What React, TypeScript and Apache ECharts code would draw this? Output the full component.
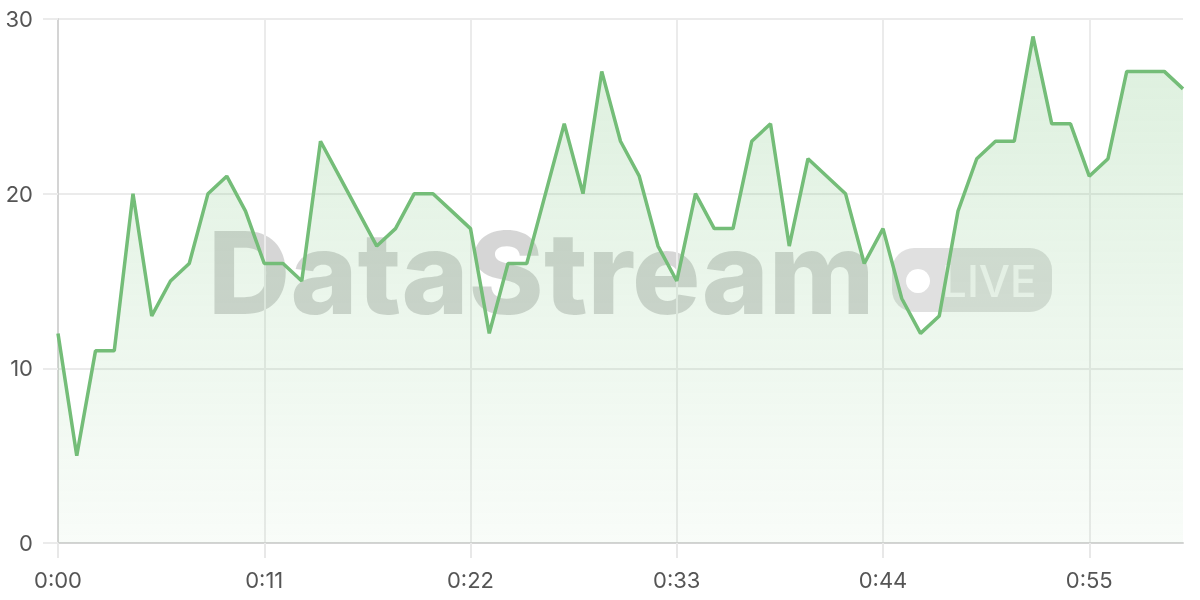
import React, { useEffect, useRef } from "react";
import * as echarts from "echarts";

const times: string[] = [
  "0:00","0:01","0:02","0:03","0:04","0:05","0:06","0:07","0:08","0:09",
  "0:10","0:11","0:12","0:13","0:14","0:15","0:16","0:17","0:18","0:19",
  "0:20","0:21","0:22","0:23","0:24","0:25","0:26","0:27","0:28","0:29",
  "0:30","0:31","0:32","0:33","0:34","0:35","0:36","0:37","0:38","0:39",
  "0:40","0:41","0:42","0:43","0:44","0:45","0:46","0:47","0:48","0:49",
  "0:50","0:51","0:52","0:53","0:54","0:55","0:56","0:57","0:58","0:59",
  "1:00",
];

const values: number[] = [
  12, 5, 11, 11, 20, 13, 15, 16, 20, 21,
  19, 16, 16, 15, 23, 21, 19, 17, 18, 20,
  20, 19, 18, 12, 16, 16, 20, 24, 20, 27,
  23, 21, 17, 15, 20, 18, 18, 23, 24, 17,
  22, 21, 20, 16, 18, 14, 12, 13, 19, 22,
  23, 23, 29, 24, 24, 21, 22, 27, 27, 27,
  26,
];

const yTicks = { min: 0, max: 30, interval: 10 };
const watermarkText = "DataStream";
const badgeText = "LIVE";

export default function App() {
  const ref = useRef<HTMLDivElement>(null);
  useEffect(() => {
    if (!ref.current) return;
    const chart = echarts.init(ref.current, undefined, { renderer: "svg" });
    const font = "Inter, 'Liberation Sans', Arial, sans-serif";
    chart.setOption({
      animation: false,
      grid: { left: 58, right: 17, top: 19, bottom: 57 },
      graphic: [
        {
          type: "text",
          z: -10,
          left: 208,
          top: 215,
          style: {
            text: watermarkText,
            font: "800 114px Inter, 'Liberation Sans', Arial, sans-serif",
            fill: "rgba(0,0,0,0.16)",
          },
        },
        {
          type: "group",
          z: -10,
          left: 892,
          top: 248,
          children: [
            {
              type: "rect",
              shape: { x: 0, y: 0, width: 160, height: 64, r: 22 },
              style: { fill: "rgba(0,0,0,0.12)" },
            },
            {
              type: "circle",
              shape: { cx: 26, cy: 33, r: 12 },
              style: { fill: "#ffffff" },
            },
            {
              type: "text",
              x: 50,
              y: 33,
              style: {
                text: badgeText,
                font: "500 44px Inter, 'Liberation Sans', Arial, sans-serif",
                fill: "rgba(255,255,255,0.75)",
                verticalAlign: "middle",
              },
            },
          ],
        },
      ],
      xAxis: {
        type: "category",
        data: times,
        boundaryGap: false,
        axisLine: { lineStyle: { color: "#d4d4d4", width: 2 } },
        axisTick: { show: true, interval: 10, length: 15, lineStyle: { color: "#e8e8e8", width: 2 } },
        splitLine: { show: true, interval: 10, lineStyle: { color: "#ebebeb", width: 2 } },
        axisLabel: { interval: 10, margin: 26, color: "#555", fontSize: 22, fontFamily: font },
      },
      yAxis: {
        type: "value",
        min: yTicks.min,
        max: yTicks.max,
        interval: yTicks.interval,
        axisLine: { show: true, lineStyle: { color: "#d4d4d4", width: 2 } },
        axisTick: { show: true, length: 15, lineStyle: { color: "#ebebeb", width: 2 } },
        splitLine: { show: true, lineStyle: { color: "#ebebeb", width: 2 } },
        axisLabel: { margin: 25, color: "#555", fontSize: 22, fontFamily: font },
      },
      series: [
        {
          type: "line",
          data: values,
          symbol: "none",
          z: 2,
          lineStyle: { color: "#74bd78", width: 3.5 },
          areaStyle: {
            color: new echarts.graphic.LinearGradient(0, 0, 0, 1, [
              { offset: 0, color: "rgba(102,187,106,0.32)" },
              { offset: 1, color: "rgba(102,187,106,0.06)" },
            ]),
          },
        },
      ],
    });
    return () => chart.dispose();
  }, []);
  return (
    <div
      ref={ref}
      style={{ position: "fixed", left: 0, top: 0, width: 1200, height: 600 }}
    />
  );
}
